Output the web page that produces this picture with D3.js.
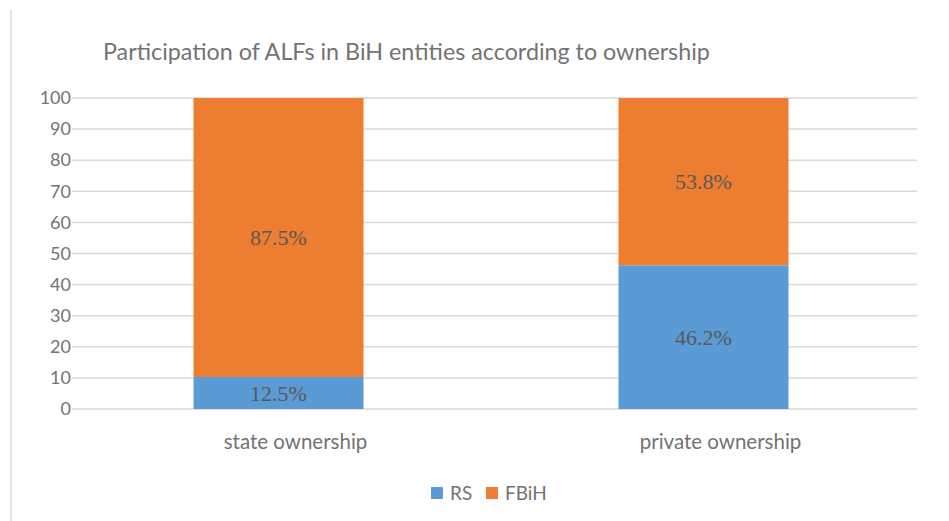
<!DOCTYPE html>
<html>
<head>
<meta charset="utf-8">
<script src="https://cdn.jsdelivr.net/npm/d3@7"></script>
<style>
  body { margin: 0; background: #fff; }
  svg { display: block; }
</style>
</head>
<body>
<svg id="chart"></svg>
<script>
// chart data
const categories = ["state ownership", "private ownership"];
const seriesNames = ["RS", "FBiH"];
const rsValues = [10.3, 46.2];
const fbihValues = [89.7, 53.8];
const rsLabels = ["12.5%", "46.2%"];
const fbihLabels = ["87.5%", "53.8%"];
const yTicks = [0, 10, 20, 30, 40, 50, 60, 70, 80, 90, 100];

const width = 949, height = 521;
const colors = { RS: "#5B9BD5", FBiH: "#ED7D31" };
const sansFont = "Lato, 'Open Sans', sans-serif";
const textColor = "#737373";

let svg = d3.select("#chart")
    .attr("width", width)
    .attr("height", height);

// left frame edge
svg.append("line")
    .attr("x1", 11).attr("x2", 11)
    .attr("y1", 10).attr("y2", height)
    .attr("stroke", "#d9d9d9")
    .attr("stroke-width", 1.5);

let plot = { left: 72, right: 917, top: 98, bottom: 409 };

let xScale = d3.scaleBand()
    .domain(categories)
    .range([66, 916])
    .paddingInner(0.6)
    .paddingOuter(0.3);

let yScale = d3.scaleLinear()
    .domain([0, 100])
    .range([plot.bottom, plot.top]);

// gridlines
svg.append("g")
    .selectAll("line")
    .data(yTicks)
    .enter()
    .append("line")
      .attr("x1", plot.left)
      .attr("x2", plot.right)
      .attr("y1", d => yScale(d))
      .attr("y2", d => yScale(d))
      .attr("stroke", "#d9d9d9")
      .attr("stroke-width", 1.5);

// y axis labels
let yAxis = d3.axisLeft(yScale)
    .tickValues(yTicks)
    .tickSize(0)
    .tickPadding(1);

svg.append("g")
    .attr("transform", "translate(" + plot.left + ",0)")
    .call(yAxis)
    .call(g => g.select(".domain").remove())
    .selectAll("text")
      .attr("fill", textColor)
      .style("font-family", sansFont)
      .style("font-size", "18px");

// stacked bars
let rows = categories.map((c, i) => ({
    category: c,
    RS: rsValues[i],
    FBiH: fbihValues[i],
    labels: { RS: rsLabels[i], FBiH: fbihLabels[i] }
}));
let stacked = d3.stack().keys(seriesNames)(rows);

let layers = svg.append("g")
    .selectAll("g")
    .data(stacked)
    .enter()
    .append("g")
      .attr("fill", d => colors[d.key]);

layers.selectAll("rect")
    .data(d => d)
    .enter()
    .append("rect")
      .attr("x", d => xScale(d.data.category))
      .attr("width", xScale.bandwidth())
      .attr("y", d => yScale(d[1]))
      .attr("height", d => yScale(d[0]) - yScale(d[1]));

// data labels
layers.each(function(layer) {
    d3.select(this).selectAll("text")
        .data(layer)
        .enter()
        .append("text")
          .attr("x", d => xScale(d.data.category) + xScale.bandwidth() / 2)
          .attr("y", d => yScale((d[0] + d[1]) / 2))
          .attr("dy", "0.35em")
          .attr("text-anchor", "middle")
          .attr("fill", "#595959")
          .style("font-family", "'Liberation Serif', serif")
          .style("font-size", "22px")
          .text(d => d.data.labels[layer.key]);
});

// category labels
let xAxis = d3.axisBottom(xScale)
    .tickSize(0)
    .tickPadding(0);

svg.append("g")
    .attr("transform", "translate(0," + plot.bottom + ")")
    .call(xAxis)
    .call(g => g.select(".domain").remove())
    .selectAll("text")
      .attr("y", 33)
      .attr("dx", 17)
      .attr("dy", "0.35em")
      .attr("fill", textColor)
      .style("font-family", sansFont)
      .style("font-size", "20.5px");

// title
svg.append("text")
    .attr("x", 103)
    .attr("y", 60)
    .attr("fill", textColor)
    .style("font-family", sansFont)
    .style("font-size", "23.3px")
    .text("Participation of ALFs in BiH entities according to ownership");

// legend
let legend = svg.append("g")
    .attr("transform", "translate(431,493)");

let legendItems = legend.selectAll("g")
    .data(seriesNames)
    .enter()
    .append("g")
      .attr("transform", (d, i) => "translate(" + (i * 55) + ",0)");

legendItems.append("rect")
    .attr("x", 0)
    .attr("y", -6)
    .attr("width", 12)
    .attr("height", 12)
    .attr("fill", d => colors[d]);

legendItems.append("text")
    .attr("x", 19)
    .attr("dy", "0.35em")
    .attr("fill", textColor)
    .style("font-family", sansFont)
    .style("font-size", "19px")
    .text(d => d);
</script>
</body>
</html>
